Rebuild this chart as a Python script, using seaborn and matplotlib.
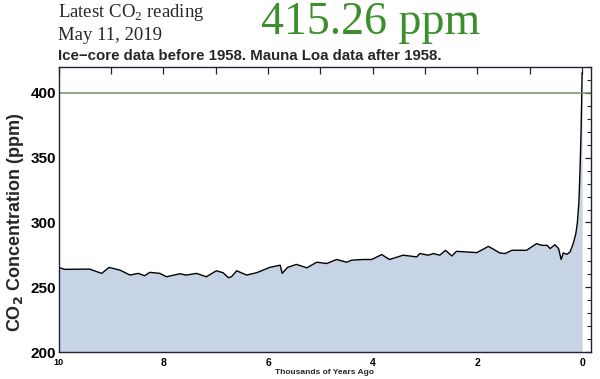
import numpy as np
import pandas as pd
import matplotlib
matplotlib.use("Agg")
import matplotlib.pyplot as plt
import seaborn as sns
from matplotlib.ticker import FixedLocator, MultipleLocator

# thousands of years ago vs CO2 (ppm)
kyr_ago = [10.0, 9.89, 9.41, 9.18, 9.04, 8.83, 8.64, 8.48, 8.36, 8.26, 8.07, 7.94,
           7.69, 7.56, 7.37, 7.18, 6.99, 6.86, 6.76, 6.70, 6.60, 6.41, 6.22, 5.97,
           5.77, 5.73, 5.63, 5.46, 5.26, 5.07, 4.88, 4.69, 4.50, 4.40, 4.18, 4.02,
           3.83, 3.68, 3.42, 3.16, 3.10, 2.94, 2.84, 2.72, 2.61, 2.49, 2.40, 2.01,
           1.79, 1.57, 1.47, 1.34, 1.06, 0.87, 0.77, 0.67, 0.61, 0.52, 0.45, 0.40,
           0.36, 0.29, 0.23, 0.17, 0.12, 0.09, 0.07, 0.061, 0.04, 0.02, 0.01,
           0.003, 0.0]
co2_ppm = [265.4, 263.9, 264.1, 260.8, 265.4, 263.3, 259.5, 260.8, 259.0, 261.6,
           260.8, 258.2, 260.5, 259.5, 260.8, 258.2, 262.8, 261.3, 257.5, 258.2,
           262.8, 259.5, 261.3, 265.4, 267.1, 260.8, 265.4, 267.7, 265.1, 269.4,
           268.4, 271.5, 269.4, 271.0, 271.5, 271.5, 275.3, 271.5, 274.8, 273.5,
           276.1, 274.8, 276.1, 274.8, 278.6, 274.2, 277.8, 276.8, 281.6, 276.5,
           276.1, 278.6, 278.6, 283.7, 282.4, 282.4, 279.9, 282.9, 279.9, 271.5,
           276.5, 275.5, 277.3, 283.7, 291.3, 300.0, 311.0, 315.5, 340.0, 370.0,
           390.0, 408.0, 415.26]

y_ticks = [200, 250, 300, 350, 400]
x_ticks = [10, 9, 8, 7, 6, 5, 4, 3, 2, 1, 0]
x_labels = ["10", "", "8", "", "6", "", "4", "", "2", "", "0"]

df = pd.DataFrame({"kyr": kyr_ago, "co2": co2_ppm})

sns.set_style("white")
plt.rcParams["font.family"] = ["Liberation Sans", "DejaVu Sans"]

fig = plt.figure(figsize=(6, 3.79), dpi=100)
ax = fig.add_axes([0.098, 0.0704, 0.887, 0.7536])

ax.fill_between(df.kyr, 200, df.co2, color="#c6d4e5", lw=0)
sns.lineplot(data=df, x="kyr", y="co2", ax=ax, color="black", lw=1.0)
ax.axhline(400, color="#6b9460", lw=1.1)

ax.set_xlim(10, -0.17)
ax.set_ylim(200, 420)
ax.xaxis.set_major_locator(FixedLocator(x_ticks))
ax.set_xticklabels(x_labels)
ax.set_yticks(y_ticks)
ax.yaxis.set_minor_locator(MultipleLocator(10))
ax.tick_params(axis="both", which="both", direction="in", top=True, right=True,
               colors="#222233", labelcolor="black")
ax.tick_params(axis="x", length=5, width=0.9, labelsize=7.5, pad=4)
ax.tick_params(axis="y", which="major", length=4, width=0.9, labelsize=11, pad=2)
ax.tick_params(axis="y", which="minor", length=3, width=0.8)
for lab in ax.get_xticklabels() + ax.get_yticklabels():
    lab.set_fontweight("bold")
ax.get_xticklabels()[0].set_fontsize(6.5)
for s in ax.spines.values():
    s.set_color("#222233")
    s.set_linewidth(1.0)

ax.set_xlabel("Thousands of Years Ago", fontsize=6, fontweight="bold")
ax.xaxis.set_label_coords(0.5, -0.058)
ax.set_ylabel("CO$_\\mathbf{2}$ Concentration (ppm)", fontsize=13, fontweight="bold")
ax.yaxis.set_label_coords(-0.062, 0.456)

fig.text(0.097, 0.954, "Latest CO$_\\mathregular{2}$ reading", fontsize=13.5,
         family="Liberation Serif", va="baseline")
fig.text(0.097, 0.894, "May 11, 2019", fontsize=13.5, family="Liberation Serif",
         va="baseline")
fig.text(0.435, 0.909, "415.26 ppm", fontsize=33, family="Liberation Serif",
         color="#3d8f2e", va="baseline")
fig.text(0.097, 0.842, "Ice\u2212core data before 1958. Mauna Loa data after 1958.",
         fontsize=10.8, fontweight="bold", va="baseline")

fig.savefig("out.png", dpi=100)
